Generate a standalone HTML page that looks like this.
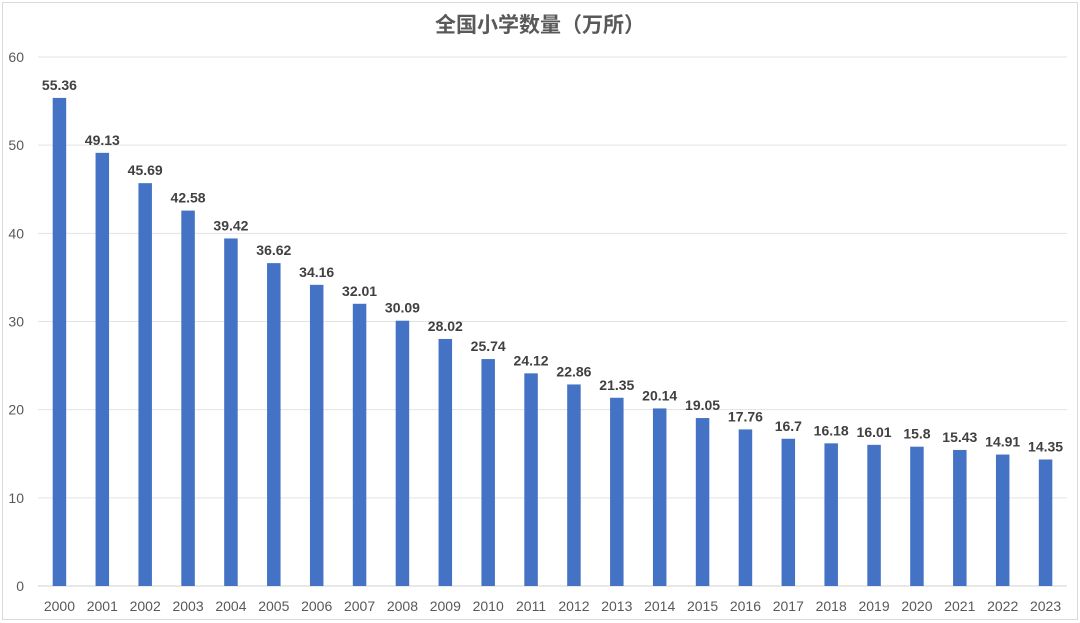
<!DOCTYPE html>
<html><head><meta charset="utf-8"><style>
html,body{margin:0;padding:0;background:#fff;}
svg{display:block;font-family:"Liberation Sans","Noto Sans CJK SC",sans-serif;}
</style></head><body>
<svg id="chart" width="1080" height="623">
<rect x="2.5" y="2.5" width="1075" height="617" fill="#fff" stroke="#d9d9d9"/>
<text x="540" y="32" text-anchor="middle" font-size="21" font-weight="bold" fill="#595959">全国小学数量（万所）</text>
<g id="grid"></g><g id="bars"></g><g id="labels"></g><g id="xt"></g><g id="yt"></g>
</svg>
<script>
const categories=["2000","2001","2002","2003","2004","2005","2006","2007","2008","2009","2010","2011","2012","2013","2014","2015","2016","2017","2018","2019","2020","2021","2022","2023"];
const values=[55.36,49.13,45.69,42.58,39.42,36.62,34.16,32.01,30.09,28.02,25.74,24.12,22.86,21.35,20.14,19.05,17.76,16.7,16.18,16.01,15.8,15.43,14.91,14.35];
const valueLabels=["55.36","49.13","45.69","42.58","39.42","36.62","34.16","32.01","30.09","28.02","25.74","24.12","22.86","21.35","20.14","19.05","17.76","16.7","16.18","16.01","15.8","15.43","14.91","14.35"];
const yTicks=[0,10,20,30,40,50,60];
const NS="http://www.w3.org/2000/svg";
const L=38,R=1067,T=57,B=586,yMax=60;
const band=(R-L)/categories.length;
const y=v=>B-(v/yMax)*(B-T);
const x=i=>L+band*(i+0.5);
function mk(tag,attrs,parent){const e=document.createElementNS(NS,tag);for(const k in attrs)e.setAttribute(k,attrs[k]);document.getElementById(parent).appendChild(e);return e;}
yTicks.forEach(t=>{
  const g=mk('line',{x1:L,x2:R,y1:y(t),y2:y(t),stroke:t===0?'#d0d0d0':'#e3e3e3','stroke-width':1},'grid');
  
  
  const tx=mk('text',{x:24,y:y(t)+5,'text-anchor':'end','font-size':14,fill:'#595959'},'yt');
  tx.textContent=t;
  
  
});
const bw=band*0.315;
categories.forEach((c,i)=>{
  const r=mk('rect',{x:x(i)-bw/2,y:y(values[i]),width:bw,height:B-y(values[i]),fill:'#4472c4'},'bars');
  
  
  const l=mk('text',{x:x(i),y:y(values[i])-8,'text-anchor':'middle','font-size':14,'font-weight':'bold',fill:'#404040'},'labels');
  l.textContent=valueLabels[i];
  
  
  const xt=mk('text',{x:x(i),y:611,'text-anchor':'middle','font-size':14,fill:'#595959'},'xt');
  xt.textContent=c;
  
  
});
</script>
</body></html>
